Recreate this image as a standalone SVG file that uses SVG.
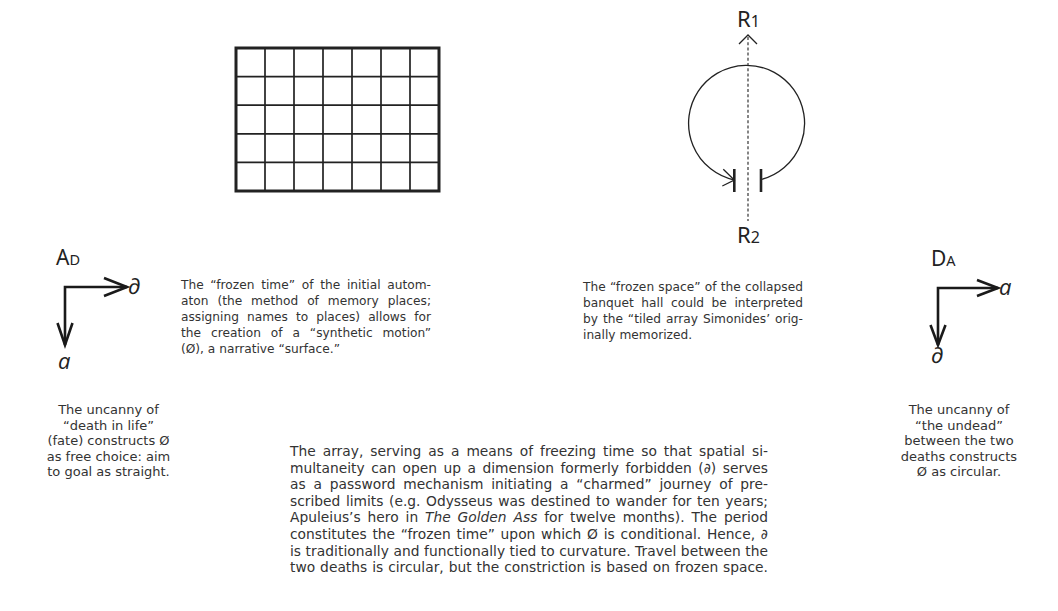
<svg xmlns="http://www.w3.org/2000/svg" width="1058" height="611" viewBox="0 0 1058 611">
<style>
.t{font-family:"DejaVu Sans",Verdana,sans-serif;font-size:13px;fill:#333}
.b{font-family:"DejaVu Sans",Verdana,sans-serif;font-size:12.2px;fill:#333}
.p{font-family:"DejaVu Sans",Verdana,sans-serif;font-size:13.8px;fill:#333}
.c{text-anchor:middle}
.lab{font-family:"Noto Sans","Open Sans","DejaVu Sans",sans-serif;fill:#222}
.ital{font-family:"Open Sans","Noto Sans",sans-serif;font-style:italic;fill:#222}
.ax{fill:none;stroke:#1a1a1a;stroke-width:2.6;stroke-linecap:butt;stroke-linejoin:miter}
.thin{fill:none;stroke:#222;stroke-width:1.3}
.gl{stroke:#222;stroke-width:1.7}
</style>
<rect width="1058" height="611" fill="#fff"/>

<g id="grid">
  <rect x="236" y="48" width="203" height="143" fill="none" stroke="#222" stroke-width="3"/>
  <g class="gl">
    <line x1="265" y1="48" x2="265" y2="191"/>
    <line x1="294" y1="48" x2="294" y2="191"/>
    <line x1="323" y1="48" x2="323" y2="191"/>
    <line x1="352" y1="48" x2="352" y2="191"/>
    <line x1="381" y1="48" x2="381" y2="191"/>
    <line x1="410" y1="48" x2="410" y2="191"/>
    <line x1="236" y1="76.6" x2="439" y2="76.6"/>
    <line x1="236" y1="105.2" x2="439" y2="105.2"/>
    <line x1="236" y1="133.8" x2="439" y2="133.8"/>
    <line x1="236" y1="162.4" x2="439" y2="162.4"/>
  </g>
</g>

<g id="banquet">
  <text class="lab" x="737" y="27" font-size="22">R<tspan font-size="16">1</tspan></text>
  <text class="lab" x="737" y="243" font-size="22">R<tspan font-size="16">2</tspan></text>
  <path class="thin" d="M 761 179.5 A 58 58 0 1 0 734.3 180"/>
  <polyline class="thin" points="723.3,169.3 734.3,180 722.3,186"/>
  <line x1="734.3" y1="169" x2="734.3" y2="192" stroke="#222" stroke-width="2.6"/>
  <line x1="761" y1="169" x2="761" y2="192" stroke="#222" stroke-width="2.6"/>
</g>

<g id="connectors">
  <line x1="748" y1="37" x2="748" y2="221" stroke="#222" stroke-width="1.1" stroke-dasharray="3 2.2"/>
  <polyline class="thin" points="739,44 748,35 757,44"/>
  <path class="ax" d="M 127 287 H 65 V 345"/>
  <polyline class="ax" points="104,278 127,287 104,296"/>
  <polyline class="ax" points="57.5,323 65,345 72.5,323"/>
  <path class="ax" d="M 998 288 H 938 V 345"/>
  <polyline class="ax" points="977,280 998,288 977,296"/>
  <polyline class="ax" points="930.5,325 938,345 945.5,325"/>
</g>

<g id="axes-left">
  <text class="lab" x="56" y="265" font-size="21">A<tspan font-size="14.5">D</tspan></text>
  <text class="lab" x="128" y="294" font-size="22">∂</text>
  <text class="ital" x="58" y="369" font-size="22">a</text>
</g>

<g id="axes-right">
  <text class="lab" x="931" y="266" font-size="21">D<tspan font-size="14.5">A</tspan></text>
  <text class="ital" x="999" y="295" font-size="22">a</text>
  <text class="lab" x="931" y="363" font-size="22">∂</text>
</g>

<g id="note-time">
  <text class="b" x="181" y="289" word-spacing="2.72" textLength="250" lengthAdjust="spacing">The “frozen time” of the initial autom-</text>
  <text class="b" x="181" y="305" word-spacing="5.04" textLength="250" lengthAdjust="spacing">aton (the method of memory places;</text>
  <text class="b" x="181" y="321" word-spacing="4.14" textLength="250" lengthAdjust="spacing">assigning names to places) allows for</text>
  <text class="b" x="181" y="337" word-spacing="5.94" textLength="250" lengthAdjust="spacing">the creation of a “synthetic motion”</text>
  <text class="b" x="181" y="353">(Ø), a narrative “surface.”</text>
</g>

<g id="note-space">
  <text class="b" x="583" y="291" word-spacing="0.3" textLength="220" lengthAdjust="spacing">The “frozen space” of the collapsed</text>
  <text class="b" x="583" y="307" word-spacing="3.68" textLength="220" lengthAdjust="spacing">banquet hall could be interpreted</text>
  <text class="b" x="583" y="323" word-spacing="1.04" textLength="220" lengthAdjust="spacing">by the “tiled array Simonides’ orig-</text>
  <text class="b" x="583" y="339">inally memorized.</text>
</g>

<g id="note-left">
  <text class="t c" x="108.5" y="414">The uncanny of</text>
  <text class="t c" x="108.5" y="429.5">“death in life”</text>
  <text class="t c" x="108.5" y="445">(fate) constructs Ø</text>
  <text class="t c" x="108.5" y="460.5">as free choice: aim</text>
  <text class="t c" x="108.5" y="476">to goal as straight.</text>
</g>

<g id="note-right">
  <text class="t c" x="959" y="414">The uncanny of</text>
  <text class="t c" x="959" y="429.5">“the undead”</text>
  <text class="t c" x="959" y="445">between the two</text>
  <text class="t c" x="959" y="460.5">deaths constructs</text>
  <text class="t c" x="959" y="476">Ø as circular.</text>
</g>

<g id="paragraph">
  <text class="p" x="290" y="456" word-spacing="2.61" textLength="478" lengthAdjust="spacing">The array, serving as a means of freezing time so that spatial si-</text>
  <text class="p" x="290" y="472.6" word-spacing="2.13" textLength="478" lengthAdjust="spacing">multaneity can open up a dimension formerly forbidden (∂) serves</text>
  <text class="p" x="290" y="489.2" word-spacing="3.39" textLength="478" lengthAdjust="spacing">as a password mechanism initiating a “charmed” journey of pre-</text>
  <text class="p" x="290" y="505.8" word-spacing="1.21" textLength="478" lengthAdjust="spacing">scribed limits (e.g. Odysseus was destined to wander for ten years;</text>
  <text class="p" x="290" y="522.4" word-spacing="2.48" textLength="478" lengthAdjust="spacing">Apuleius’s hero in <tspan font-style="italic">The Golden Ass</tspan> for twelve months). The period</text>
  <text class="p" x="290" y="539" word-spacing="1.35" textLength="478" lengthAdjust="spacing">constitutes the “frozen time” upon which Ø is conditional. Hence, ∂</text>
  <text class="p" x="290" y="555.6" word-spacing="0.1" textLength="478" lengthAdjust="spacing">is traditionally and functionally tied to curvature. Travel between the</text>
  <text class="p" x="290" y="572.2" word-spacing="0.55" textLength="478" lengthAdjust="spacing">two deaths is circular, but the constriction is based on frozen space.</text>
</g>
</svg>
